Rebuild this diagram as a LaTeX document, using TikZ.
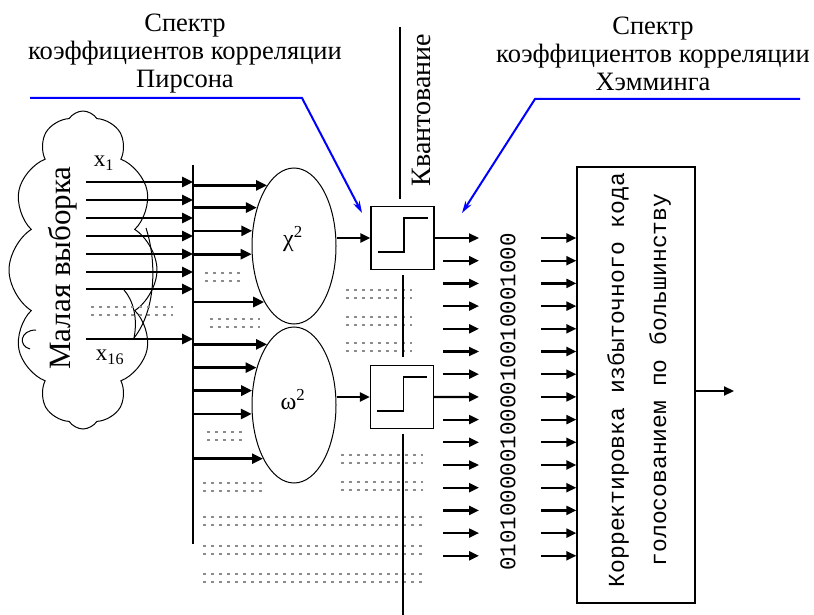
\documentclass[tikz,border=0pt]{standalone}
\usepackage{fontspec}
\setmainfont{Liberation Serif}
\newfontfamily\monof{Liberation Mono}
\usetikzlibrary{arrows.meta,shapes.geometric,shapes.symbols}
\begin{document}
\begin{tikzpicture}[x=1pt,y=-1pt,
  arr/.style={line width=2.6pt,-{Triangle[length=11pt,width=10pt]}},
  arrs/.style={line width=2.2pt,-{Triangle[length=10pt,width=9pt]}},
  dots/.style={black!45,line width=2.6pt,dash pattern=on 2.6pt off 5.4pt},
  blu/.style={blue,line width=2pt,-{Stealth[length=12pt,width=7pt]}},
  qbox/.style={draw,line width=1.3pt,minimum width=63pt,minimum height=63pt,inner sep=0},
  ell/.style={draw,ellipse,line width=1pt,minimum width=84pt,minimum height=156pt,inner sep=0},
  quant/.style={line width=2.6pt},
  txt/.style={font=\fontsize{26.5}{28}\selectfont},
  mtxt/.style={font=\monof\fontsize{23}{42}\selectfont}
]
\useasboundingbox (0,0) rectangle (814,615);
\fill[white] (0,0) rectangle (814,615);

% titles
\node[txt,align=center] (t1) at (185,54) {Спектр\\коэффициентов корреляции\\Пирсона};
\node[txt,align=center] (t2) at (653,54) {Спектр\\коэффициентов корреляции\\Хэмминга};
\coordinate (b1s) at (30,98);
\coordinate (b1k) at (302,98);
\coordinate (b2s) at (800,99);
\coordinate (b2k) at (535,99);

% cloud
\node[cloud,draw,line width=1pt,cloud puffs=12,cloud puff arc=115,aspect=0.46,
      minimum width=148pt,minimum height=318pt,inner sep=0] (cl) at (83,270) {};
\draw[line width=1pt] (146,228) .. controls (157,262) and (156,310) .. (134,338);
\draw[line width=1pt] (124,290) .. controls (133,300) and (138,318) .. (134,338);
\draw[line width=1pt] (36,330) .. controls (20,330) and (18,346) .. (30,349);
\node[rotate=90,font=\fontsize{31}{33}\selectfont] (ms) at (63,268) {Малая выборка};
\node[font=\fontsize{23}{26}\selectfont] (x1) at (104,163) {x\textsubscript{1}};
\node[font=\fontsize{23}{26}\selectfont] (x16) at (110,357) {x\textsubscript{16}};

% dotted rows
\foreach \xa/\xb/\y in {91/173/307, 205/240/273, 210/260/319, 346/412/290, 346/412/317,
  346/412/343, 207/242/432, 341/423/455, 341/423/482, 203/263/483, 203/423/517,
  203/423/546, 203/423/574}{
  \draw[dots] (\xa,\y) -- (\xb,\y);
  \draw[dots] (\xa,\y+8) -- (\xb,\y+8);
}

% bus
\coordinate (busT) at (193,165);
\coordinate (busB) at (193,544);
\draw[line width=2pt] (busT) -- (busB);
\foreach \y in {182,200,218,236,254,272,289,339}
  \draw[arr] (86,\y) -- (busT |- 0,\y);

% ellipses
\node[ell] (chi) at (294,246) {};
\node[ell] (om) at (294,405) {};
\node[font=\fontsize{24}{27}\selectfont] at (293,239) {χ\textsuperscript{2}};
\node[font=\fontsize{24}{27}\selectfont] at (293,400) {ω\textsuperscript{2}};
\foreach \a in {114,134,160,191,242}
  \draw[arr] (busT |- chi.\a) -- (chi.\a);
\foreach \a in {114,135,161,192,240}
  \draw[arr] (busT |- om.\a) -- (om.\a);

% quantizers
\node[qbox] (q1) at (402.5,238) {};
\node[qbox] (q2) at (402,397) {};
\foreach \q in {q1,q2}
  \draw[line width=1.8pt] ([xshift=-25pt,yshift=-14pt]\q.center) -| ([xshift=1.5pt,yshift=20pt]\q.center)
     -- ([xshift=25pt,yshift=20pt]\q.center);
\draw[arrs] (q1.west -| chi.east) -- (q1.west);
\draw[arrs] (q2.west -| om.east) -- (q2.west);

% quantization line
\draw[quant] (400,27) -- (400,199);
\draw[quant] (403,275) -- (403,357);
\draw[quant] (403,434) -- (403,615);
\node[font=\fontsize{28}{30}\selectfont,rotate=90] (kv) at (421,110) {Квантование};

% blue pointers
\draw[blu] (b1s) -- (b1k) -- (362,213);
\draw[blu] (b2s) -- (b2k) -- (462,213);

% big box
\node[draw,line width=1.3pt,minimum width=118pt,minimum height=436pt,inner sep=0] (big) at (636,385) {};
\node[mtxt,rotate=90,align=center] (bt) at (639,380) {Корректировка избыточного кода\\голосованием по большинству};
\draw[arrs] (big.east |- 0,391) -- (734,391);

% code columns
\foreach \k in {0,...,14}{
  \pgfmathsetmacro{\yy}{238+22.7*\k}
  \ifnum\k=0\relax
    \draw[arrs] (q1.east) -- (479,\yy);
  \else\ifnum\k=7\relax
    \draw[arrs] (q2.east) -- (479,\yy);
  \else
    \draw[arrs] (443,\yy) -- (479,\yy);
  \fi\fi
  \draw[arrs] (541,\yy) -- (big.west |- 0,\yy);
}
\node[rotate=90,font=\monof\fontsize{22.5}{27}\selectfont] (code) at (508,402) {0101000001000010010001000};
\end{tikzpicture}
\end{document}
